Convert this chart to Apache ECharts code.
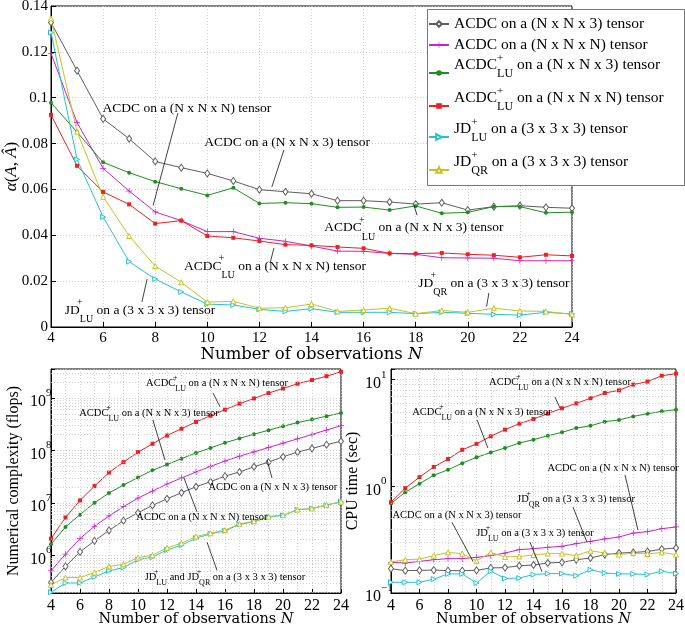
<!DOCTYPE html>
<html><head><meta charset="utf-8">
<script src="https://cdn.jsdelivr.net/npm/echarts@6/dist/echarts.min.js"></script>
<style>html,body{margin:0;padding:0;background:#fff}#c{width:685px;height:625px}</style>
</head><body><div id="c"></div><script>
// ---------------- data ----------------
const observations = [4,5,6,7,8,9,10,11,12,13,14,15,16,17,18,19,20,21,22,23,24];

const seriesNames = [
  'ACDC on a (N x N x 3) tensor',
  'ACDC on a (N x N x N) tensor',
  'ACDC+LU on a (N x N x 3) tensor',
  'ACDC+LU on a (N x N x N) tensor',
  'JD+LU on a (3 x 3 x 3) tensor',
  'JD+QR on a (3 x 3 x 3) tensor'
];

// top panel: alpha(A, A^)
const alphaAcdc3   = [0.1328,0.1118,0.0908,0.0821,0.0722,0.0695,0.0670,0.0637,0.0599,0.0590,0.0581,0.0551,0.0551,0.0545,0.0536,0.0542,0.0510,0.0525,0.0529,0.0522,0.0518];
const alphaAcdcN   = [0.1193,0.0891,0.0692,0.0593,0.0502,0.0464,0.0416,0.0416,0.0387,0.0374,0.0353,0.0331,0.0330,0.0321,0.0317,0.0302,0.0301,0.0300,0.0289,0.0289,0.0289];
const alphaAcdcLU3 = [0.0978,0.0850,0.0718,0.0673,0.0634,0.0603,0.0574,0.0607,0.0539,0.0542,0.0538,0.0522,0.0523,0.0510,0.0528,0.0496,0.0500,0.0525,0.0525,0.0498,0.0501];
const alphaAcdcLUN = [0.0925,0.0703,0.0589,0.0535,0.0451,0.0464,0.0397,0.0389,0.0375,0.0359,0.0356,0.0349,0.0343,0.0321,0.0320,0.0323,0.0317,0.0313,0.0304,0.0315,0.0310];
const alphaJdLU    = [0.1284,0.0731,0.0480,0.0285,0.0209,0.0153,0.0100,0.0096,0.0077,0.0068,0.0080,0.0064,0.0064,0.0064,0.0058,0.0064,0.0060,0.0055,0.0052,0.0064,0.0057];
const alphaJdQR    = [0.1346,0.0852,0.0568,0.0397,0.0266,0.0195,0.0109,0.0112,0.0082,0.0084,0.0100,0.0068,0.0074,0.0082,0.0058,0.0072,0.0064,0.0082,0.0070,0.0068,0.0055];

// bottom-left: numerical complexity (flops)
const flopsAcdc3   = [3.07e5,6.2e5,1.17e6,1.9e6,3.0e6,4.6e6,6.5e6,9.0e6,1.2e7,1.57e7,2.04e7,2.54e7,3.25e7,3.9e7,4.9e7,6.0e7,7.6e7,9.3e7,1.1e8,1.29e8,1.5e8];
const flopsAcdcN   = [5.1e5,1.06e6,2.1e6,3.6e6,5.66e6,8.5e6,1.24e7,1.69e7,2.3e7,3.0e7,3.9e7,4.97e7,6.3e7,7.8e7,9.4e7,1.14e8,1.38e8,1.67e8,2.02e8,2.45e8,2.97e8];
const flopsAcdcLU3 = [1.64e6,3.5e6,6.0e6,1.01e7,1.55e7,2.2e7,3.07e7,4.2e7,5.4e7,7.0e7,9.0e7,1.12e8,1.4e8,1.7e8,2.05e8,2.43e8,2.9e8,3.4e8,3.9e8,4.5e8,5.2e8];
const flopsAcdcLUN = [2.1e6,5.3e6,1.12e7,2.1e7,3.8e7,6.0e7,9.3e7,1.34e8,1.93e8,2.6e8,3.5e8,4.6e8,6.0e8,7.8e8,9.8e8,1.24e9,1.52e9,1.87e9,2.2e9,2.6e9,3.16e9];
const flopsJdLU    = [2.0e5,3.0e5,3.0e5,3.9e5,5.1e5,5.9e5,8.3e5,9.3e5,1.28e6,1.57e6,2.14e6,2.58e6,2.95e6,3.9e6,4.4e6,5.4e6,5.8e6,7.4e6,7.8e6,9.1e6,1.05e7];
const flopsJdQR    = [2.75e5,3.8e5,3.8e5,4.75e5,6.2e5,6.8e5,9.1e5,1.01e6,1.4e6,1.71e6,2.3e6,2.65e6,3.05e6,4.0e6,4.5e6,5.5e6,5.9e6,7.5e6,7.9e6,9.2e6,1.06e7];

// bottom-right: CPU time (sec)
const cpuAcdc3   = [0.169,0.162,0.163,0.164,0.162,0.162,0.163,0.172,0.173,0.180,0.183,0.191,0.194,0.205,0.213,0.229,0.237,0.240,0.245,0.258,0.264];
const cpuAcdcN   = [0.194,0.191,0.198,0.205,0.210,0.210,0.216,0.224,0.237,0.255,0.260,0.268,0.274,0.290,0.305,0.321,0.335,0.365,0.376,0.401,0.416];
const cpuAcdcLU3 = [0.69,0.88,1.06,1.27,1.43,1.65,1.87,2.08,2.29,2.55,2.74,2.98,3.21,3.52,3.70,4.04,4.19,4.53,4.80,5.05,5.24];
const cpuAcdcLUN = [0.71,0.96,1.22,1.52,1.80,2.20,2.50,2.95,3.40,3.87,4.28,4.80,5.40,6.00,6.70,7.50,7.95,9.00,9.60,10.9,11.4];
const cpuJdLU    = [0.126,0.126,0.126,0.135,0.151,0.151,0.124,0.160,0.137,0.138,0.149,0.152,0.152,0.145,0.165,0.154,0.151,0.151,0.149,0.160,0.152];
const cpuJdQR    = [0.196,0.205,0.208,0.224,0.240,0.234,0.200,0.240,0.218,0.220,0.227,0.234,0.234,0.224,0.249,0.237,0.229,0.237,0.232,0.240,0.229];

// ---------------- annotations (text, arrow) in data coordinates ----------------
const annotTop = [
  {text:'{t|ACDC on a (N x N x N) tensor}', at:[9.22,0.0955], from:[8.87,0.0933], to:[7.92,0.0530]},
  {text:'{t|ACDC on a (N x N x 3) tensor}', at:[13.06,0.0807], from:[12.94,0.0772], to:[12.48,0.0611]},
  {text:'{t|ACDC}{sp|+}{sb|LU}{t| on a (N x N x 3) tensor}', at:[17.93,0.0432], from:[18.05,0.0488], to:[17.93,0.0532]},
  {text:'{t|ACDC}{sp|+}{sb|LU}{t| on a (N x N x N) tensor}', at:[12.6,0.0266], from:[12.41,0.0279], to:[12.56,0.0345]},
  {text:'{t|JD}{sp|+}{sb|LU}{t| on a (3 x 3 x 3) tensor}', at:[7.42,0.0074], from:[7.49,0.0109], to:[7.69,0.0209]},
  {text:'{t|JD}{sp|+}{sb|QR}{t| on a (3 x 3 x 3) tensor}', at:[21.0,0.0192], from:[20.81,0.0148], to:[20.72,0.0089]}
];
const annotFlops = [
  {text:'{t|ACDC}{sp|+}{sb|LU}{t| on a (N x N x N) tensor}', at:[15.45,1.93e9], from:[15.17,1.25e9], to:[15.66,6.8e8]},
  {text:'{t|ACDC}{sp|+}{sb|LU}{t| on a (N x N x 3) tensor}', at:[10.76,5.18e8], from:[11.03,3.8e8], to:[11.86,6.6e7]},
  {text:'{t|ACDC on a (N x N x 3) tensor}', at:[19.3,2.02e7], from:[19.24,3.0e7], to:[18.9,6.6e7]},
  {text:'{t|ACDC on a (N x N x N) tensor}', at:[14.41,5.4e6], from:[14.07,6.8e6], to:[13.17,3.0e7]},
  {text:'{t|JD}{sp|+}{sb|LU}{t| and JD}{sp|+}{sb|QR}{t| on a (3 x 3 x 3) tensor}', at:[16.0,3.9e5], from:[15.45,5.2e5], to:[14.76,1.8e6]}
];
const annotCpu = [
  {text:'{t|ACDC}{sp|+}{sb|LU}{t| on a (N x N x N) tensor}', at:[15.86,9.5], from:[15.5,6.9], to:[15.86,5.4]},
  {text:'{t|ACDC}{sp|+}{sb|LU}{t| on a (N x N x 3) tensor}', at:[10.39,4.97], from:[10.04,4.2], to:[10.8,2.29]},
  {text:'{t|ACDC on a (N x N x N) tensor}', at:[19.58,1.48], from:[20.42,1.28], to:[21.33,0.39]},
  {text:'{t|JD}{sp|+}{sb|QR}{t| on a (3 x 3 x 3) tensor}', at:[16.98,0.76], from:[16.77,0.64], to:[17.75,0.30]},
  {text:'{t|ACDC on a (N x N x 3) tensor}', at:[8.63,0.538], from:[8.28,0.46], to:[9.75,0.198]},
  {text:'{t|JD}{sp|+}{sb|LU}{t| on a (3 x 3 x 3) tensor}', at:[14.1,0.365], from:[13.75,0.30], to:[14.6,0.158]}
];

// ---------------- styles ----------------
const SERIF = 'Liberation Serif';
const plusPath = 'path://M-0.6,-5 H0.6 V-0.6 H5 V0.6 H0.6 V5 H-0.6 V0.6 H-5 V-0.6 H-0.6 Z';
const looks = [
  {color:'#5e5e5e', symbol:'diamond', size:[5,7], open:true},
  {color:'#cc22cc', symbol:plusPath, size:6},
  {color:'#1f8f1f', symbol:'circle', size:4},
  {color:'#ee2020', symbol:'rect', size:4},
  {color:'#22c4d0', symbol:'triangle', size:5, rotate:-90, open:true},
  {color:'#c4c422', symbol:'triangle', size:5, open:true}
];

function makeSeries(idx, grid, values) {
  const lk = looks[idx];
  return {
    type:'line', name: seriesNames[idx], xAxisIndex:grid, yAxisIndex:grid,
    data: observations.map((n,k)=>[n, values[k]]),
    symbol: lk.symbol, symbolSize: lk.size, symbolRotate: lk.rotate || 0,
    showAllSymbol:true, animation:false, silent:true, z: 3,
    lineStyle:{color:lk.color, width:1},
    itemStyle: lk.open ? {color:'#ffffff', borderColor:lk.color, borderWidth:1}
                       : {color:lk.color, borderColor:lk.color, borderWidth:0},
    emphasis:{disabled:true}
  };
}

function annSeries(grid, list, fs, sfs, supOff, subOff) {
  return {
    type:'line', name:'annot'+grid, xAxisIndex:grid, yAxisIndex:grid, data:[], silent:true, animation:false, z:5,
    markLine:{
      silent:true, animation:false, symbol:['none','arrow'], symbolSize:[0,7],
      lineStyle:{color:'#111', width:0.8, type:'solid'}, label:{show:false}, emphasis:{disabled:true},
      data: list.map(a=>[{coord:a.from},{coord:a.to}])
    },
    markPoint:{
      silent:true, animation:false, symbol:'circle', symbolSize:0,
      label:{show:true, position:'inside', color:'#000',
        rich:{
          t:{fontFamily:SERIF, fontSize:fs, color:'#000', lineHeight:fs+2},
          sp:{fontFamily:SERIF, fontSize:sfs, color:'#000', lineHeight:sfs, width:0, padding:[0,0,2*supOff,0]},
          sb:{fontFamily:SERIF, fontSize:sfs, color:'#000', lineHeight:sfs, padding:[2*subOff,0,0,0]}
        }},
      data: list.map(a=>({coord:a.at, label:{formatter:a.text}}))
    }
  };
}

function minorLines(grid, lo, hi) {
  const out = [];
  for (let e = Math.floor(Math.log10(lo)); e <= Math.ceil(Math.log10(hi)); e++) {
    for (let k = 2; k <= 9; k++) { const v = k*Math.pow(10,e); if (v > lo && v < hi) out.push({yAxis:v}); }
  }
  return {
    type:'line', name:'minor'+grid, xAxisIndex:grid, yAxisIndex:grid, data:[], silent:true, animation:false, z:1,
    markLine:{silent:true, animation:false, symbol:'none', label:{show:false}, emphasis:{disabled:true},
      lineStyle:{color:'#c4c4c4', width:0.8, type:[1,2]}, data: out}
  };
}

const supFmt = v => {
  const e = Math.log10(v), r = Math.round(e);
  if (Math.abs(e - r) > 1e-6) return '';
  return '{b|10}{s|' + (r < 0 ? '\u2212' + (-r) : r) + '}';
};
const logRich = {b:{fontFamily:SERIF, fontSize:16, color:'#000', padding:[8,0,0,0]}, s:{fontFamily:SERIF, fontSize:11, color:'#000', padding:[0,0,10,0]}};
const alphaFmt = v => '{v|' + (+v.toFixed(2)) + '}';

const gridLine = {show:true, lineStyle:{color:'#c4c4c4', width:0.8, type:[1,2]}};
const xName = fs => ({
  name:'{r|Number of observations }{i|N}', nameLocation:'middle', nameMoveOverlap:false,
  nameTextStyle:{rich:{r:{fontFamily:'DejaVu Serif', fontSize:fs, color:'#000'}, i:{fontFamily:'DejaVu Serif', fontStyle:'italic', fontSize:fs, color:'#000'}}}
});

// legend: one entry per legend component, stacked inside a framed box
const legendTops = [16, 37, 52.5, 85.5, 116.5, 149.5];
const legendRich = {
  p:{fontFamily:SERIF, fontSize:15.5, color:'#000', lineHeight:18},
  t:{fontFamily:SERIF, fontSize:15.5, color:'#000', lineHeight:18, padding:[0,0,16,0]},
  sp:{fontFamily:SERIF, fontSize:11, color:'#000', lineHeight:11, width:0, padding:[0,0,30,0]},
  sb:{fontFamily:SERIF, fontSize:12, color:'#000', lineHeight:12, padding:[2,0,0,0]}
};
const legendFmt = name => {
  const m = name.match(/^(ACDC|JD)\+(LU|QR)(.*)$/);
  if (!m) return '{p|' + name + '}';
  return '{t|' + m[1] + '}{sp|+}{sb|' + m[2] + '}{t|' + m[3] + '}';
};
const legends = seriesNames.map((nm, i) => ({
  data:[nm], orient:'vertical', left:427, top:legendTops[i], selectedMode:false, z:12,
  itemWidth:20, itemHeight:7, padding:[0,0,0,1], formatter:legendFmt,
  textStyle:{fontFamily:SERIF, fontSize:15.5, color:'#000', rich:legendRich}
}));

const gridBase = {show:true, borderColor:'#000', borderWidth:1, backgroundColor:'#fff', containLabel:false, outerBoundsMode:'none'};

const option = {
  backgroundColor:'#fff',
  animation:false,
  grid:[
    Object.assign({left:51, top:6, width:521, height:321}, gridBase),
    Object.assign({left:51, top:369, width:290, height:224}, gridBase),
    Object.assign({left:391, top:369, width:285, height:224}, gridBase)
  ],
  graphic:[{type:'rect', left:427, top:9, z:11, silent:true,
    shape:{width:257, height:176}, style:{fill:'#fff', stroke:'#777', lineWidth:1}}],
  legend: legends,
  xAxis:[
    Object.assign({type:'value', gridIndex:0, min:4, max:24, interval:2, nameGap:19,
      axisLine:{lineStyle:{color:'#000'}}, axisTick:{inside:true, length:5, lineStyle:{color:'#000'}},
      axisLabel:{fontFamily:SERIF, fontSize:15, color:'#000', margin:4},
      splitLine:gridLine}, xName(16.5)),
    Object.assign({type:'value', gridIndex:1, min:4, max:24, interval:2, nameGap:19,
      axisLine:{lineStyle:{color:'#000'}}, axisTick:{inside:true, length:4, lineStyle:{color:'#000'}},
      axisLabel:{fontFamily:SERIF, fontSize:16, color:'#000', margin:5},
      splitLine:gridLine, minorTick:{show:false, splitNumber:2}, minorSplitLine:{show:true, lineStyle:{color:'#c4c4c4', width:0.8, type:[1,2]}}}, xName(14.5)),
    Object.assign({type:'value', gridIndex:2, min:4, max:24, interval:2, nameGap:19,
      axisLine:{lineStyle:{color:'#000'}}, axisTick:{inside:true, length:4, lineStyle:{color:'#000'}},
      axisLabel:{fontFamily:SERIF, fontSize:16, color:'#000', margin:5},
      splitLine:gridLine, minorTick:{show:false, splitNumber:2}, minorSplitLine:{show:true, lineStyle:{color:'#c4c4c4', width:0.8, type:[1,2]}}}, xName(14.5))
  ],
  yAxis:[
    {type:'value', gridIndex:0, min:0, max:0.14, interval:0.02,
      name:'{i|α}{r|(}{i|A}{r|, }{i|Â}{r|)}', nameLocation:'middle', nameGap:31, nameMoveOverlap:false,
      nameTextStyle:{rich:{r:{fontFamily:SERIF, fontSize:17, color:'#000'}, i:{fontFamily:SERIF, fontStyle:'italic', fontSize:17, color:'#000'}}},
      axisLine:{lineStyle:{color:'#000'}}, axisTick:{inside:true, length:5, lineStyle:{color:'#000'}},
      axisLabel:{formatter:alphaFmt, align:'left', margin:30,
        rich:{v:{fontFamily:SERIF, fontSize:15, color:'#000', width:27, align:'right'}}},
      splitLine:gridLine},
    {type:'log', logBase:10, gridIndex:1, min:1.93e5, max:3.57e9,
      name:'Numerical complexity (flops)', nameLocation:'middle', nameGap:29, nameMoveOverlap:false,
      nameTextStyle:{fontFamily:SERIF, fontSize:16, color:'#000'},
      axisLine:{lineStyle:{color:'#000'}}, axisTick:{inside:true, length:4, lineStyle:{color:'#000'}},
      axisLabel:{formatter:supFmt, rich:logRich, align:'left', margin:21},
      splitLine:gridLine},
    {type:'log', logBase:10, gridIndex:2, min:0.1, max:12.6,
      name:'CPU time (sec)', nameLocation:'middle', nameGap:30, nameMoveOverlap:false,
      nameTextStyle:{fontFamily:SERIF, fontSize:16, color:'#000'},
      axisLine:{lineStyle:{color:'#000'}}, axisTick:{inside:true, length:4, lineStyle:{color:'#000'}},
      axisLabel:{formatter:supFmt, rich:logRich, align:'left', margin:26},
      splitLine:gridLine}
  ],
  series:[
    minorLines(1, 1.93e5, 3.57e9),
    minorLines(2, 0.1, 12.6),
    makeSeries(0,0,alphaAcdc3), makeSeries(1,0,alphaAcdcN), makeSeries(2,0,alphaAcdcLU3),
    makeSeries(3,0,alphaAcdcLUN), makeSeries(4,0,alphaJdLU), makeSeries(5,0,alphaJdQR),
    makeSeries(0,1,flopsAcdc3), makeSeries(1,1,flopsAcdcN), makeSeries(2,1,flopsAcdcLU3),
    makeSeries(3,1,flopsAcdcLUN), makeSeries(4,1,flopsJdLU), makeSeries(5,1,flopsJdQR),
    makeSeries(0,2,cpuAcdc3), makeSeries(1,2,cpuAcdcN), makeSeries(2,2,cpuAcdcLU3),
    makeSeries(3,2,cpuAcdcLUN), makeSeries(4,2,cpuJdLU), makeSeries(5,2,cpuJdQR),
    annSeries(0, annotTop, 13.5, 10, 8, 9),
    annSeries(1, annotFlops, 10.5, 8, 5, 6),
    annSeries(2, annotCpu, 10.5, 8, 5, 6)
  ]
};
const chart = echarts.init(document.getElementById('c'), null, {renderer:'canvas'});
chart.setOption(option);
</script></body></html>
